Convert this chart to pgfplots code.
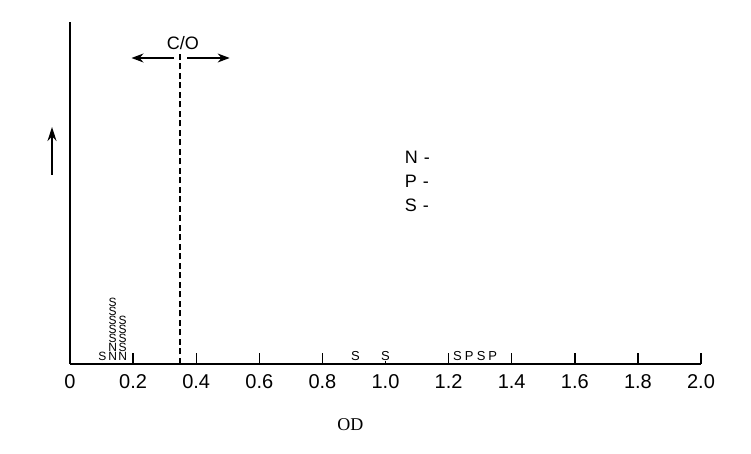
\documentclass[border=0pt]{standalone}
\usepackage{pgfplots}
\pgfplotsset{compat=1.18}
\usepackage{fontspec}
\setmainfont{Liberation Sans}
\newfontfamily\timesfont{Liberation Serif}
\usetikzlibrary{arrows.meta}
\begin{document}
\begin{tikzpicture}
\path[use as bounding box] (-70pt,-90pt) rectangle (681pt,364pt);
\begin{axis}[
  at={(0pt,0pt)}, anchor=south west,
  scale only axis, width=631pt, height=342pt,
  xmin=0, xmax=2, ymin=0, ymax=342,
  axis x line=bottom, axis y line=left,
  axis line style={-, line width=1.6pt},
  xtick={0,0.2,0.4,0.6,0.8,1.0,1.2,1.4,1.6,1.8,2.0},
  xticklabels={0,0.2,0.4,0.6,0.8,1.0,1.2,1.4,1.6,1.8,2.0},
  ytick=\empty,
  tick align=inside, major tick length=11pt,
  every tick/.style={line width=1.4pt, black},
  xticklabel style={font=\fontsize{20}{20}\selectfont, yshift=-7pt},
  clip=false,
]
% stacked letters near the origin
\addplot[draw=none, mark=none, nodes near coords,
  point meta=explicit symbolic,
  every node near coord/.style={anchor=base, inner sep=0pt, font=\fontsize{12}{12}\selectfont}]
  table[meta=l] {
x y l
0.103 3 S
0.135 3 N
0.135 12 N
0.135 21 S
0.135 30 S
0.135 39 S
0.135 48 S
0.135 57 S
0.167 3 N
0.167 12 S
0.167 21 S
0.167 30 S
0.167 39 S
};
% isolated letters
\addplot[draw=none, mark=none, nodes near coords,
  point meta=explicit symbolic,
  every node near coord/.style={anchor=base, inner sep=0.3pt, fill=white, font=\fontsize{13}{13}\selectfont}]
  table[meta=l] {
x y l
0.905 3 S
1.0 3 S
1.228 3 S
1.265 3 P
1.303 3 S
1.34 3 P
};
% cutoff line
\draw[line width=2pt, dash pattern=on 6pt off 3.5pt] (axis cs:0.35,0) -- (axis cs:0.35,311);
\draw[line width=1.2pt, -{Stealth[length=12pt,width=9pt]}] (axis cs:0.33,306) -- (axis cs:0.195,306);
\draw[line width=1.2pt, -{Stealth[length=12pt,width=9pt]}] (axis cs:0.371,306) -- (axis cs:0.506,306);
\node[font=\fontsize{18}{18}\selectfont, anchor=base] at (axis cs:0.358,314) {C/O};
% y arrow
\draw[line width=1.4pt, -{Stealth[length=14pt,width=9pt]}] (axis cs:-0.057,189) -- (axis cs:-0.057,237);
% legend
\node[font=\fontsize{18}{18}\selectfont, anchor=west] at (axis cs:1.05,207) {N\hspace{6pt}-};
\node[font=\fontsize{18}{18}\selectfont, anchor=west] at (axis cs:1.05,183) {P\hspace{6pt}-};
\node[font=\fontsize{18}{18}\selectfont, anchor=west] at (axis cs:1.05,159) {S\hspace{6pt}-};
% x label
\node[font=\timesfont\fontsize{18}{18}\selectfont] at (axis cs:0.889,-61) {OD};
\end{axis}
\end{tikzpicture}
\end{document}
